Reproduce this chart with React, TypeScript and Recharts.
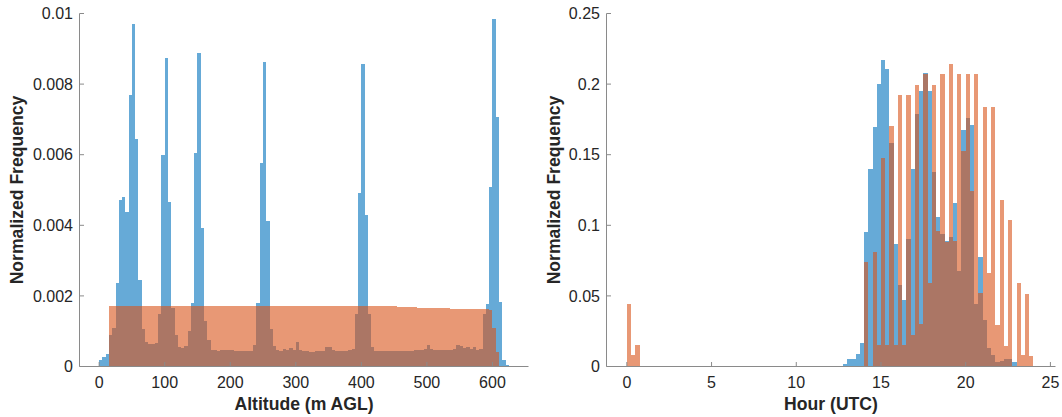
import React from 'react';
import { ComposedChart, Bar, XAxis, YAxis } from 'recharts';

// ---------- Altitude histogram (5 m bins starting at 0 m) ----------
const altitudeBinStart = 0;
const altitudeBinWidth = 5;
const altitudeBlue = [
  0.00017, 0.00026, 0.00036, 0.0009, 0.0011, 0.00236, 0.00473, 0.0048, 0.00437, 0.0077,
  0.0097, 0.00645, 0.00246, 0.00107, 0.00069, 0.00064, 0.00065, 0.00066, 0.0015, 0.006,
  0.00874, 0.00466, 0.00165, 0.0009, 0.00055, 0.00052, 0.00058, 0.001, 0.0018, 0.00604,
  0.00889, 0.00392, 0.00128, 0.00076, 0.00048, 0.00046, 0.00045, 0.00046, 0.00047, 0.00046,
  0.00046, 0.00045, 0.00045, 0.00044, 0.00044, 0.00044, 0.00045, 0.0006, 0.0018, 0.00577,
  0.00864, 0.00412, 0.00107, 0.00058, 0.00048, 0.00045, 0.0005, 0.00048, 0.00053, 0.00048,
  0.00069, 0.00048, 0.00045, 0.00043, 0.00042, 0.00042, 0.00043, 0.00043, 0.00044, 0.00055,
  0.00054, 0.00047, 0.00045, 0.00044, 0.00044, 0.00045, 0.00046, 0.0005, 0.0015, 0.00492,
  0.00857, 0.0043, 0.0015, 0.00055, 0.00045, 0.00044, 0.00043, 0.00043, 0.00043, 0.00043,
  0.00043, 0.00043, 0.00043, 0.00044, 0.00044, 0.00045, 0.00046, 0.00047, 0.00048, 0.0005,
  0.0006, 0.0005, 0.00047, 0.00046, 0.00046, 0.00046, 0.00047, 0.00048, 0.0005, 0.00062,
  0.00058, 0.00052, 0.00055, 0.0005, 0.00055, 0.00048, 0.0005, 0.0015, 0.00178, 0.00508,
  0.00985, 0.00706, 0.00184, 0.00017, 0.00004,
];
const altitudeOrange = [
  0, 0, 0,
  0.00172, 0.00172, 0.00172, 0.00172, 0.00172, 0.00172, 0.00172, 0.00172, 0.00172, 0.00172, 0.00172, 0.00172, 0.00172,
  0.00172, 0.00172, 0.00172, 0.00172, 0.00172, 0.00172, 0.00172, 0.00172, 0.00172, 0.00172, 0.00172, 0.00172, 0.00172,
  0.00172, 0.00172, 0.00172, 0.00172, 0.00172, 0.00172, 0.00172, 0.00172, 0.00172, 0.00172, 0.00172, 0.00172, 0.00172,
  0.00172, 0.00172, 0.00172, 0.00172, 0.00172, 0.00172, 0.00172, 0.00172, 0.00172, 0.00172, 0.00172, 0.00172, 0.00172,
  0.00172, 0.00172, 0.00172, 0.00172, 0.00172, 0.00172, 0.00172, 0.00172, 0.00172, 0.00172, 0.00172, 0.00172, 0.00172,
  0.00172, 0.00172, 0.00172, 0.00172, 0.00172, 0.00172, 0.00172, 0.00172, 0.00172, 0.00172, 0.00172, 0.00172, 0.00172,
  0.00172, 0.00172, 0.00171, 0.00171, 0.00171, 0.00171, 0.0017, 0.0017, 0.0017, 0.0017,
  0.00169, 0.00169, 0.00169, 0.00168, 0.00168, 0.00168, 0.00167, 0.00167, 0.00167, 0.00166,
  0.00166, 0.00166, 0.00165, 0.00165, 0.00165, 0.00165, 0.00164, 0.00164, 0.00164, 0.00164,
  0.00164, 0.00163, 0.00163, 0.00163, 0.00163, 0.00163, 0.00163, 0.00163,
  0.0016, 0.0011, 0.0004, 0, 0, 0,
];

// ---------- Hour histogram (0.25 h bins starting at 0 h) ----------
const hourBinStart = 0;
const hourBinWidth = 0.25;
const hourBlue = [
  0, 0, 0, 0, 0, 0, 0, 0, 0, 0,
  0, 0, 0, 0, 0, 0, 0, 0, 0, 0,
  0, 0, 0, 0, 0, 0, 0, 0, 0, 0,
  0, 0, 0, 0, 0, 0, 0, 0, 0, 0,
  0, 0, 0, 0, 0, 0, 0, 0, 0, 0,
  0,
  0.0019, 0.0054, 0.0054, 0.009, 0.0165, 0.095, 0.14, 0.1695, 0.2, 0.217,
  0.211, 0.158, 0.087, 0.058, 0.047, 0.09, 0.14, 0.179, 0.195, 0.208,
  0.195, 0.1376, 0.1058, 0.094, 0.089, 0.092, 0.1157, 0.0675, 0.1676, 0.176,
  0.1707, 0.0444, 0.0779, 0.033, 0.013, 0.008, 0.003, 0.004, 0.005, 0.005,
  0.003, 0, 0, 0, 0,
];
const hourOrange = [
  0.044, 0.0078, 0.015,
  0, 0, 0, 0, 0, 0, 0, 0, 0, 0,
  0, 0, 0, 0, 0, 0, 0, 0, 0, 0,
  0, 0, 0, 0, 0, 0, 0, 0, 0, 0,
  0, 0, 0, 0, 0, 0, 0, 0, 0, 0,
  0, 0, 0, 0, 0, 0, 0, 0, 0, 0,
  0, 0, 0,
  0.074, 0, 0.081, 0.015, 0.148, 0.015, 0.17, 0.015, 0.192, 0.015,
  0.192, 0.022, 0.1995, 0.03, 0.207, 0.059, 0.1995, 0.0963, 0.207, 0.088,
  0.2144, 0.0888, 0.207, 0.1525, 0.207, 0.1246, 0.207, 0.052, 0.184, 0.0663,
  0.184, 0.0297, 0.118, 0.0147, 0.1034, 0, 0.059, 0.008, 0.051, 0.0076,
];

// ---------- Axis ticks ----------
const altitudeTicks = [0, 100, 200, 300, 400, 500, 600];
const hourTicks = [0, 5, 10, 15, 20, 25];
const altitudeFreqTicks = [0, 0.002, 0.004, 0.006, 0.008, 0.01];
const hourFreqTicks = [0, 0.05, 0.1, 0.15, 0.2, 0.25];

const BLUE = '#0072BD';
const ORANGE = '#D95319';
const AXIS_COLOR = '#8a8a8a';
const TEXT_COLOR = '#262626';
const FONT = '"Liberation Sans", Arial, Helvetica, sans-serif';
const TICK_LEN = 4.5;
const TICK_FONT = 16;
const LABEL_FONT = 17.6;

type Row = { x: number; blue: number; orange: number };

const buildRows = (start: number, width: number, blue: number[], orange: number[]): Row[] =>
  blue.map((b, i) => ({ x: start + width * (i + 0.5), blue: b, orange: orange[i] ?? 0 }));

const altitudeRows = buildRows(altitudeBinStart, altitudeBinWidth, altitudeBlue, altitudeOrange);
const hourRows = buildRows(hourBinStart, hourBinWidth, hourBlue, hourOrange);

const fmt = (v: number) => String(v);

// Histogram bin: the library gives the left edge (x) and the height; the bin spans one full band
const makeBinShape = (band: number, color: string) => (props: any) => {
  const { x, y, height } = props;
  if (x == null || y == null || !height || height <= 0) return <g />;
  return (
    <rect x={x} y={y} width={band} height={height} fill={color} fillOpacity={0.6} shapeRendering="crispEdges" />
  );
};

const BottomTick = (p: any) => (
  <g>
    <line x1={p.x} x2={p.x} y1={p.y} y2={p.y - TICK_LEN} stroke={AXIS_COLOR} strokeWidth={1} />
    <text x={p.x} y={p.y + 21} textAnchor="middle" fontSize={TICK_FONT} fill={TEXT_COLOR} fontFamily={FONT}>
      {fmt(p.payload.value)}
    </text>
  </g>
);

const TopTick = (p: any) => (
  <line x1={p.x} x2={p.x} y1={p.y} y2={p.y + TICK_LEN} stroke={AXIS_COLOR} strokeWidth={1} />
);

const LeftTick = (p: any) => (
  <g>
    <line x1={p.x} x2={p.x + TICK_LEN} y1={p.y} y2={p.y} stroke={AXIS_COLOR} strokeWidth={1} />
    <text x={p.x - 6.5} y={p.y + 5.7} textAnchor="end" fontSize={TICK_FONT} fill={TEXT_COLOR} fontFamily={FONT}>
      {fmt(p.payload.value)}
    </text>
  </g>
);

const RightTick = (p: any) => (
  <line x1={p.x} x2={p.x - TICK_LEN} y1={p.y} y2={p.y} stroke={AXIS_COLOR} strokeWidth={1} />
);

type PanelProps = {
  width: number;
  height: number;
  yAxisWidth: number;
  marginRight: number;
  marginTop: number;
  xAxisHeight: number;
  xDomain: [number, number];
  yDomain: [number, number];
  xTicks: number[];
  yTicks: number[];
  rows: Row[];
  binWidth: number;
  xLabel: string;
  yLabel: string;
  yLabelX: number;
  xLabelY: number;
};

function HistPanel(p: PanelProps) {
  const plotLeft = p.yAxisWidth;
  const plotRight = p.width - p.marginRight;
  const plotTop = p.marginTop;
  const plotBottom = p.height - p.xAxisHeight;
  const band = ((plotRight - plotLeft) * p.binWidth) / (p.xDomain[1] - p.xDomain[0]);
  const cx = (plotLeft + plotRight) / 2;
  const cy = (plotTop + plotBottom) / 2;
  const axisLine = { stroke: AXIS_COLOR, strokeWidth: 1 };

  const renderXLabel = () => (
    <text x={cx} y={p.xLabelY} textAnchor="middle" fontSize={LABEL_FONT} fontWeight="bold" fill={TEXT_COLOR} fontFamily={FONT}>
      {p.xLabel}
    </text>
  );
  const renderYLabel = () => (
    <text
      x={p.yLabelX}
      y={cy}
      transform={`rotate(-90 ${p.yLabelX} ${cy})`}
      textAnchor="middle"
      fontSize={LABEL_FONT}
      fontWeight="bold"
      fill={TEXT_COLOR}
      fontFamily={FONT}
    >
      {p.yLabel}
    </text>
  );

  return (
    <ComposedChart
      width={p.width}
      height={p.height}
      data={p.rows}
      margin={{ top: p.marginTop, right: p.marginRight, bottom: 0, left: 0 }}
      barCategoryGap={0}
      barGap={0}
    >
      <XAxis
        xAxisId="bottom"
        dataKey="x"
        type="number"
        domain={p.xDomain}
        ticks={p.xTicks}
        interval={0}
        height={p.xAxisHeight}
        axisLine={axisLine}
        tickLine={false}
        tickSize={0}
        tickMargin={0}
        tick={(props: any) => <BottomTick {...props} />}
        allowDataOverflow
        label={{ content: renderXLabel }}
      />
      <XAxis
        xAxisId="top"
        orientation="top"
        dataKey="x"
        type="number"
        domain={p.xDomain}
        ticks={p.xTicks}
        interval={0}
        height={0}
        axisLine={axisLine}
        tickLine={false}
        tickSize={0}
        tickMargin={0}
        tick={(props: any) => <TopTick {...props} />}
        allowDataOverflow
      />
      <YAxis
        yAxisId="left"
        type="number"
        domain={p.yDomain}
        ticks={p.yTicks}
        interval={0}
        width={p.yAxisWidth}
        axisLine={axisLine}
        tickLine={false}
        tickSize={0}
        tickMargin={0}
        tick={(props: any) => <LeftTick {...props} />}
        allowDataOverflow
        label={{ content: renderYLabel }}
      />
      <YAxis
        yAxisId="right"
        orientation="right"
        type="number"
        domain={p.yDomain}
        ticks={p.yTicks}
        interval={0}
        width={0}
        axisLine={axisLine}
        tickLine={false}
        tickSize={0}
        tickMargin={0}
        tick={(props: any) => <RightTick {...props} />}
        allowDataOverflow
      />
      <Bar
        xAxisId="bottom"
        yAxisId="left"
        dataKey="blue"
        fill={BLUE}
        barSize={band}
        shape={makeBinShape(band, BLUE)}
        isAnimationActive={false}
      />
      <Bar
        xAxisId="top"
        yAxisId="left"
        dataKey="orange"
        fill={ORANGE}
        barSize={band}
        shape={makeBinShape(band, ORANGE)}
        isAnimationActive={false}
      />
    </ComposedChart>
  );
}

export default function App() {
  return (
    <div style={{ position: 'absolute', left: 0, top: 0, width: 1062, height: 417, background: '#ffffff', fontFamily: FONT }}>
      <div style={{ position: 'absolute', left: 0, top: 0 }}>
        <HistPanel
          width={531}
          height={417}
          yAxisWidth={79.5}
          marginRight={2.5}
          marginTop={13.5}
          xAxisHeight={50.5}
          xDomain={[-30, 655]}
          yDomain={[0, 0.01]}
          xTicks={altitudeTicks}
          yTicks={altitudeFreqTicks}
          rows={altitudeRows}
          binWidth={altitudeBinWidth}
          xLabel="Altitude (m AGL)"
          yLabel="Normalized Frequency"
          yLabelX={22.5}
          xLabelY={410}
        />
      </div>
      <div style={{ position: 'absolute', left: 531, top: 0 }}>
        <HistPanel
          width={531}
          height={417}
          yAxisWidth={75.5}
          marginRight={6.5}
          marginTop={13.5}
          xAxisHeight={50.5}
          xDomain={[-1.2, 25.3]}
          yDomain={[0, 0.25]}
          xTicks={hourTicks}
          yTicks={hourFreqTicks}
          rows={hourRows}
          binWidth={hourBinWidth}
          xLabel="Hour (UTC)"
          yLabel="Normalized Frequency"
          yLabelX={29}
          xLabelY={410}
        />
      </div>
    </div>
  );
}
